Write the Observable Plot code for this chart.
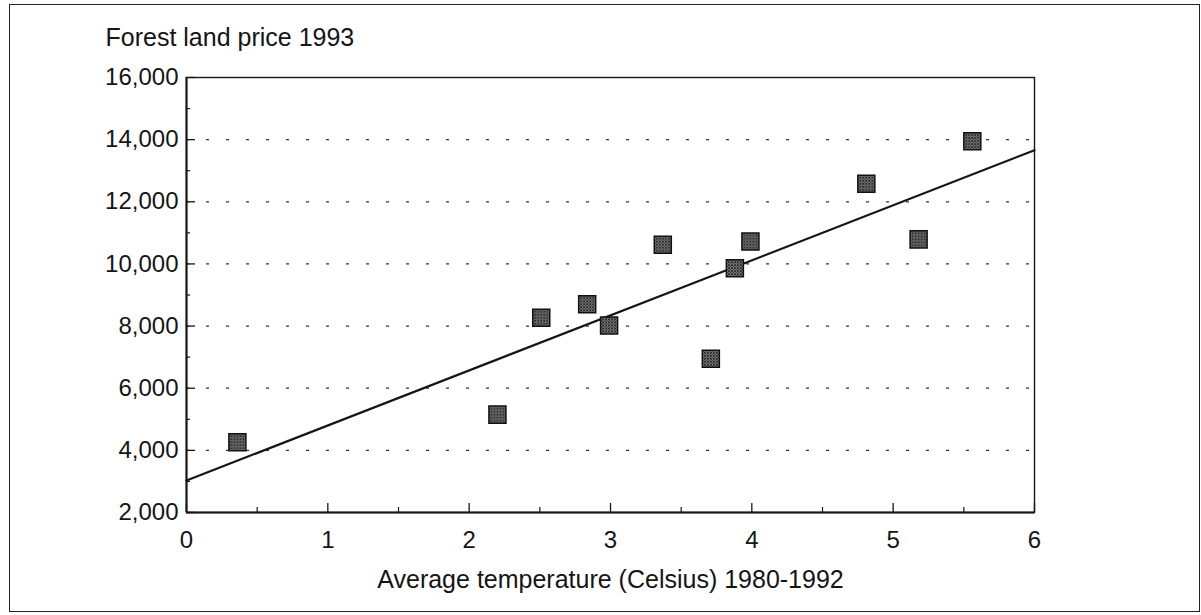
<!DOCTYPE html>
<html>
<head>
<meta charset="utf-8">
<script src="https://cdn.jsdelivr.net/npm/d3@7"></script>
<script src="https://cdn.jsdelivr.net/npm/@observablehq/plot@0.6"></script>
<style>
  html, body { margin: 0; padding: 0; background: #fff; }
  #wrap { position: relative; width: 1201px; height: 615px; overflow: hidden; }
  #border { position: absolute; left: 9px; top: 4px; width: 1191px; height: 608px;
            box-sizing: border-box; border: 1.6px solid #222; pointer-events: none; }
  #chart { position: absolute; left: 0; top: 0; }
</style>
</head>
<body>
<div id="wrap"><div id="chart"></div><div id="border"></div></div>
<script>
// ---- data ----
const temperature = [0.36, 2.20, 2.51, 2.835, 2.99, 3.37, 3.71, 3.88, 3.99, 4.81, 5.18, 5.56];
const landPrice   = [4260, 5150, 8270, 8700, 8020, 10620, 6950, 9860, 10720, 12580, 10790, 13950];
const fitX = [0, 6];
const fitY = [3030, 13660];
const yTicks = [2000, 4000, 6000, 8000, 10000, 12000, 14000, 16000];
const yMinorTicks = [3000, 5000, 7000, 9000, 11000, 13000, 15000];
const gridValues = [4000, 6000, 8000, 10000, 12000, 14000];
const xTicks = [0, 1, 2, 3, 4, 5, 6];
const xMinorTicks = [0.5, 1.5, 2.5, 3.5, 4.5, 5.5];
const titleText = "Forest land price 1993";
const xLabelText = "Average temperature (Celsius) 1980-1992";

const points = temperature.map((t, i) => ({t, p: landPrice[i]}));
const fit = fitX.map((x, i) => ({x, y: fitY[i]}));

const W = 1201, H = 615;
const mL = 186, mR = 167, mT = 77, mB = 103;
const plotW = W - mL - mR, plotH = H - mT - mB;
const ink = "#151515";

const defs = () => {
  const d = d3.create("svg:defs");
  const pat = d.append("pattern").attr("id", "grain").attr("patternUnits", "userSpaceOnUse")
    .attr("width", 3).attr("height", 3);
  pat.append("rect").attr("width", 3).attr("height", 3).attr("fill", "#8c8c8c");
  [[0,0],[2,0],[1,1],[0,2],[2,2]].forEach(([a,b]) =>
    pat.append("rect").attr("x", a).attr("y", b).attr("width", 1).attr("height", 1).attr("fill", "#262626"));
  return d.node();
};

const chart = Plot.plot({
  width: W, height: H,
  marginLeft: mL, marginRight: mR, marginTop: mT, marginBottom: mB,
  style: {fontFamily: "'Liberation Sans', Arial, sans-serif", fontSize: "24px", color: ink, background: "#fff"},
  x: {domain: [0, 6]},
  y: {domain: [2000, 16000]},
  marks: [
    defs,
    Plot.ruleY(gridValues, {stroke: "#333", strokeWidth: 1.3, strokeDasharray: "3,17"}),
    Plot.frame({stroke: ink, strokeWidth: 1.4}),
    Plot.ruleX([0], {stroke: ink, strokeWidth: 2}),
    Plot.ruleY([2000], {stroke: ink, strokeWidth: 2}),
    Plot.tickY(yTicks, {y: d => d, stroke: ink, strokeWidth: 1.3, insetRight: plotW - 9}),
    Plot.tickY(yMinorTicks, {y: d => d, stroke: ink, strokeWidth: 1.2, insetRight: plotW - 4}),
    Plot.tickX(xTicks, {x: d => d, stroke: ink, strokeWidth: 1.3, insetTop: plotH - 9}),
    Plot.tickX(xMinorTicks, {x: d => d, stroke: ink, strokeWidth: 1.2, insetTop: plotH - 5}),
    Plot.axisY(yTicks, {tickSize: 0, tickPadding: 8, tickFormat: d3.format(","), label: null, fontSize: 24}),
    Plot.axisX(xTicks, {tickSize: 0, tickPadding: 18, tickFormat: d => String(d), label: null, fontSize: 24}),
    Plot.line(fit, {x: "x", y: "y", stroke: ink, strokeWidth: 2.2}),
    Plot.dot(points, {x: "t", y: "p", symbol: "square", r: 9.6, fill: "url(#grain)", stroke: "#111", strokeWidth: 1.5}),
    Plot.text([titleText], {text: d => d, frameAnchor: "top-left", textAnchor: "start", lineAnchor: "middle",
      dx: -81, dy: -40, fontSize: 25, fill: ink}),
    Plot.text([xLabelText], {text: d => d, frameAnchor: "bottom", textAnchor: "middle", lineAnchor: "middle",
      dy: 67, fontSize: 25, fill: ink})
  ]
});
document.getElementById("chart").appendChild(chart);
</script>
</body>
</html>
